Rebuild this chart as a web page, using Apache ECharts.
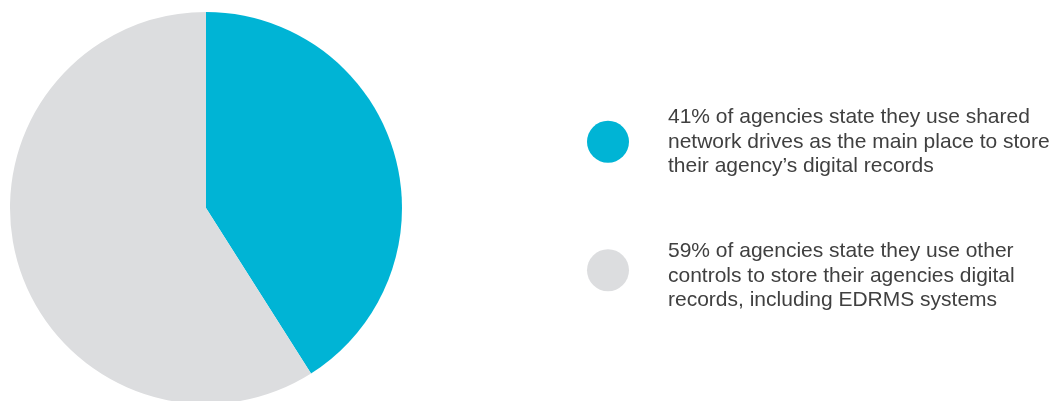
<!DOCTYPE html>
<html>
<head>
<meta charset="utf-8">
<script src="https://cdn.jsdelivr.net/npm/echarts@6/dist/echarts.min.js"></script>
<style>
html,body{margin:0;padding:0;background:#fff;}
#chart{width:1064px;height:401px;}
</style>
</head>
<body>
<div id="chart"></div>
<script>
const categories = [
  "41% of agencies state they use shared\nnetwork drives as the main place to store\ntheir agency\u2019s digital records",
  "59% of agencies state they use other\ncontrols to store their agencies digital\nrecords, including EDRMS systems"
];
const values = [41, 59];
const colors = ["#00B4D5", "#DCDDDF"];

const font = {
  fontFamily: 'Liberation Sans, Arial, sans-serif',
  fontSize: 21,
  lineHeight: 24.5,
  color: '#404040'
};

const baseLegend = {
  orient: 'vertical',
  left: 587,
  padding: 0,
  itemWidth: 42,
  itemHeight: 42,
  icon: 'circle',
  selectedMode: false,
  textStyle: Object.assign({}, font, {padding: [0, 0, 0, 34]})
};

const chart = echarts.init(document.getElementById('chart'), null, {renderer: 'canvas'});
chart.setOption({
  animation: false,
  backgroundColor: '#ffffff',
  color: colors,
  legend: [
    Object.assign({}, baseLegend, {top: 105, data: [categories[0]]}),
    Object.assign({}, baseLegend, {
      top: 228,
      data: [categories[1]],
      formatter: function (name) {
        return '{s| }\n' + name.split('\n').map(l => '{t|' + l + '}').join('\n');
      },
      textStyle: Object.assign({}, font, {
        padding: [0, 0, 0, 34],
        rich: {
          s: {fontSize: 1, lineHeight: 11, fontFamily: font.fontFamily},
          t: Object.assign({}, font)
        }
      })
    })
  ],
  series: [{
    type: 'pie',
    center: [206, 208],
    radius: [0, 196],
    startAngle: 90,
    clockwise: true,
    silent: true,
    label: {show: false},
    labelLine: {show: false},
    itemStyle: {borderWidth: 0},
    data: categories.map((c, i) => ({name: c, value: values[i], itemStyle: {color: colors[i]}}))
  }]
});
</script>
</body>
</html>
